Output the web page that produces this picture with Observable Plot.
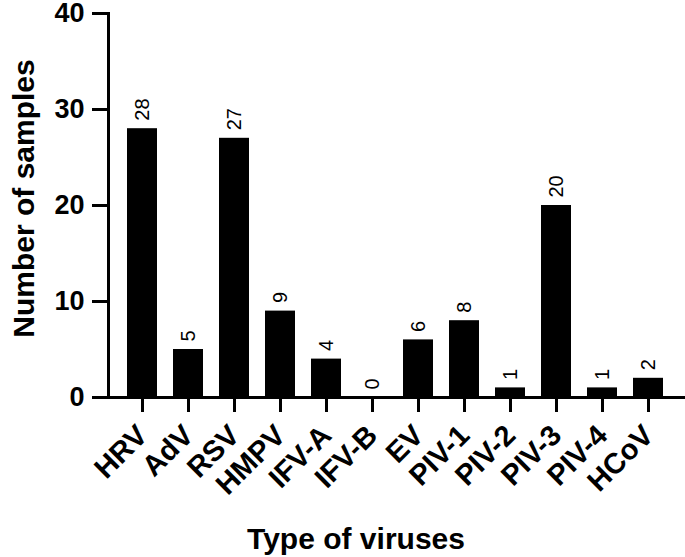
<!DOCTYPE html>
<html><head><meta charset="utf-8">
<script src="https://cdn.jsdelivr.net/npm/d3@7"></script>
<script src="https://cdn.jsdelivr.net/npm/@observablehq/plot@0.6"></script>
<style>body{margin:0;background:#fff}</style>
</head><body><div id="chart"></div>
<script>
const viruses = ["HRV","AdV","RSV","HMPV","IFV-A","IFV-B","EV","PIV-1","PIV-2","PIV-3","PIV-4","HCoV"];
const samples = [28,5,27,9,4,0,6,8,1,20,1,2];
const yTicks = [0,10,20,30,40];
const xTitle = "Type of viruses";
const yTitle = "Number of samples";
const data = viruses.map((v,i)=>({virus:v, n:samples[i]}));

const chart = Plot.plot({
  width: 685, height: 557,
  marginTop: 13, marginBottom: 160, marginLeft: 108, marginRight: 2,
  style: {fontFamily: "'Liberation Sans', Arial, sans-serif", background: "white", color: "black", overflow: "visible"},
  x: {domain: viruses, paddingInner: 0.34, paddingOuter: 0.17, insetLeft: 7, insetRight: 8, label: null},
  y: {domain: [0, 40], label: null},
  marks: [
    Plot.barY(data, {x: "virus", y: "n", fill: "black"}),
    Plot.text(data, {x: "virus", y: "n", text: d => String(d.n), rotate: -90, textAnchor: "start", dy: -8, fontSize: 20, fill: "black"}),
    Plot.axisY(yTicks, {tickSize: 16, tickPadding: 8, strokeWidth: 3, fontSize: 27, fontWeight: "bold", label: null}),
    Plot.axisX({tickSize: 15, tickPadding: 18, tickRotate: -45, strokeWidth: 3, fontSize: 29, fontWeight: "bold", label: null}),
    Plot.frame({anchor: "left", strokeWidth: 3}),
    Plot.frame({anchor: "bottom", strokeWidth: 3}),
    Plot.text([yTitle], {frameAnchor: "left", rotate: -90, textAnchor: "middle", lineAnchor: "middle", dx: -84, dy: -7, fontSize: 30, fontWeight: "bold", fill: "black"}),
    Plot.text([xTitle], {frameAnchor: "bottom", textAnchor: "middle", lineAnchor: "middle", dx: -40, dy: 142, fontSize: 30, fontWeight: "bold", fill: "black"})
  ]
});
document.getElementById("chart").appendChild(chart);
</script>
</body></html>
